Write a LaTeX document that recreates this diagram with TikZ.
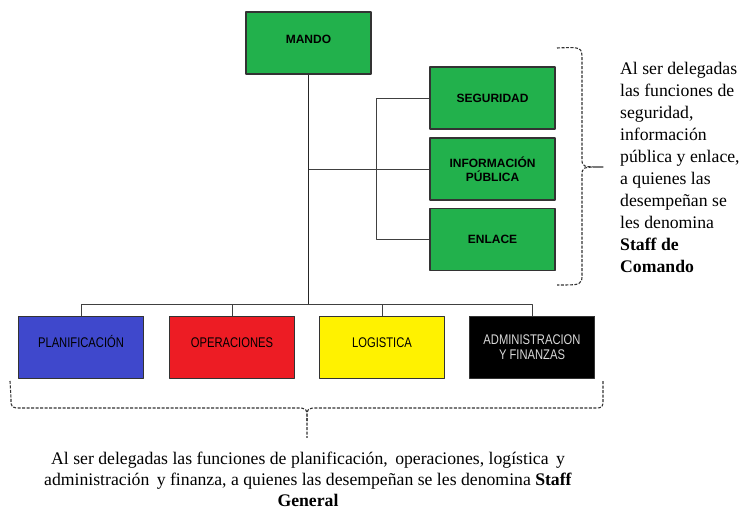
\documentclass[tikz,border=0pt]{standalone}
\usepackage{fontspec}
\setmainfont{Liberation Serif}
\setsansfont{Liberation Sans}
\newfontfamily\narrowsf[FakeStretch=0.8]{Liberation Sans}
\usetikzlibrary{positioning}

\definecolor{cmdgreen}{HTML}{22B14C}
\definecolor{planblue}{HTML}{3F48CC}
\definecolor{operred}{HTML}{ED1C24}
\definecolor{logyellow}{HTML}{FFF200}

\begin{document}
\begin{tikzpicture}[
    x=1pt, y=-1pt,
    line join=round,
    unit/.style={draw=black!80, line width=1.2pt, minimum width=125pt,
        minimum height=62pt, inner sep=2pt, align=center},
    cmdbox/.style={unit, fill=cmdgreen, font=\sffamily\bfseries\fontsize{12}{14}\selectfont},
    genbox/.style={unit, font=\narrowsf\fontsize{14}{15}\selectfont},
    raised/.style={text height=10pt, text depth=9pt},
    link/.style={draw=black!75, line width=0.9pt},
    bracket/.style={draw=black!80, line width=1.1pt, dash pattern=on 3pt off 1.5pt},
    note/.style={font=\fontsize{17.7}{22}\selectfont, inner sep=0pt}
]
    \useasboundingbox (0,0) rectangle (742,510);

    % === 1. Mando y staff de comando ===
    \node[cmdbox, raised] (mando) at (308.5, 43) {MANDO};
    \node[cmdbox] (seg) at (492.5, 98) {SEGURIDAD};
    \node[cmdbox] (info) at (492.5, 169) {INFORMACIÓN\\PÚBLICA};
    \node[cmdbox] (enl) at (492.5, 239.5) {ENLACE};

    % === 2. Staff general ===
    \node[genbox, raised, fill=planblue] (plan) at (81, 347.5) {PLANIFICACIÓN};
    \node[genbox, raised, fill=operred] (oper) at (232, 347.5) {OPERACIONES};
    \node[genbox, raised, fill=logyellow] (logi) at (382, 347.5) {LOGISTICA};
    \node[genbox, fill=black, text=white!85!black] (admin) at (532, 347.5) {ADMINISTRACION\\Y FINANZAS};

    % Connectors
    \coordinate (bus) at (308.5, 304);
    \coordinate (rail) at (376, 98);
    \draw[link, line width=1.2pt, draw=black!85] (mando.south) -- (bus);
    \foreach \n in {plan, oper, logi, admin}
        \draw[link] (\n.north) |- (bus);
    \draw[link] (mando.south |- info.west) -- (info.west);
    \draw[link] (seg.west) -- (rail) |- (enl.west);

    % Braces
    \draw[bracket] (557,48) .. controls (582,47) .. (582,60) -- (582,158)
        .. controls (582,167) .. (603,167)
        .. controls (582,167) .. (582,176) -- (582,274)
        .. controls (582,285) .. (557,285);
    \draw[bracket] (10,381) -- (11,398) .. controls (11,408) .. (22,408) -- (296,408)
        .. controls (307,408) .. (307,421) -- (307,438);
    \draw[bracket] (307,421) .. controls (307,408) .. (318,408) -- (594,408)
        .. controls (603,408) .. (603,398) -- (603,381);

    % Labels
    \node[note, anchor=north west, align=left] (cmdnote) at (620, 62.5)
        {Al ser delegadas\\las funciones de\\seguridad,\\información\\pública y enlace,\\a quienes las\\desempeñan se\\les denomina\\\textbf{Staff de}\\\textbf{Comando}};
    \node[note, font=\fontsize{17.7}{21}\selectfont, anchor=north, align=center] (gennote) at (308, 452)
        {Al ser delegadas las funciones de planificación,\hspace{3pt} operaciones, logística\hspace{3pt} y\\administración\hspace{3pt} y finanza, a quienes las desempeñan se les denomina \textbf{Staff}\\\textbf{General}};

\end{tikzpicture}
\end{document}
